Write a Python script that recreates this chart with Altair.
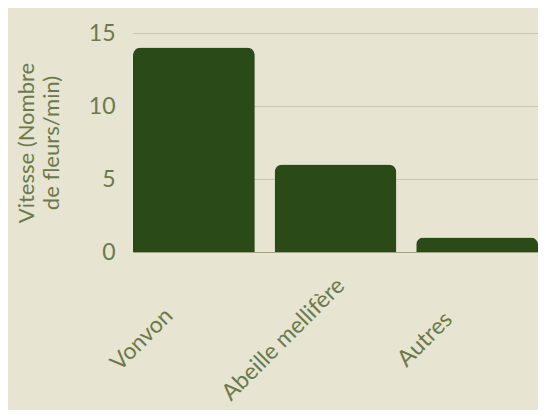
import altair as alt
import pandas as pd

categories = ["Vonvon", "Abeille mellifère", "Autres"]
values = [14, 6, 1]

df = pd.DataFrame({"cat": categories, "val": values})

FONT = "Lato"
TXT = "#6b7a4a"

chart = alt.Chart(df).mark_bar(
    color="#2a4a18", cornerRadiusTopLeft=8, cornerRadiusTopRight=8
).encode(
    x=alt.X("cat:N", sort=categories, title=None,
            scale=alt.Scale(paddingInner=0.14, paddingOuter=0),
            axis=alt.Axis(labelAngle=-45, labelAlign="center", labelBaseline="middle",
                          labelOffset=-52, labelPadding=87, ticks=False,
                          domainColor="#a3a283", labelFontSize=23,
                          labelColor=TXT, labelFont=FONT, grid=False)),
    y=alt.Y("val:Q", scale=alt.Scale(domain=[0, 15]),
            title=["Vitesse (Nombre", "de fleurs/min)"],
            axis=alt.Axis(values=[0, 5, 10, 15], ticks=False, domain=False,
                          gridColor="#c9c7ae", labelFontSize=23, labelColor=TXT,
                          labelFont=FONT, labelPadding=18, titleFont=FONT,
                          titleFontSize=22, titleFontWeight="normal", titleColor=TXT,
                          titleLineHeight=25, titlePadding=25)),
).properties(
    width=405, height=219, background="#e7e4d1",
    autosize=alt.AutoSizeParams(type="none"),
    padding={"left": 125, "top": 25, "right": 0, "bottom": 158},
).configure_view(stroke=None)

chart.save("out.html", embed_options={"renderer": "svg", "actions": False})
